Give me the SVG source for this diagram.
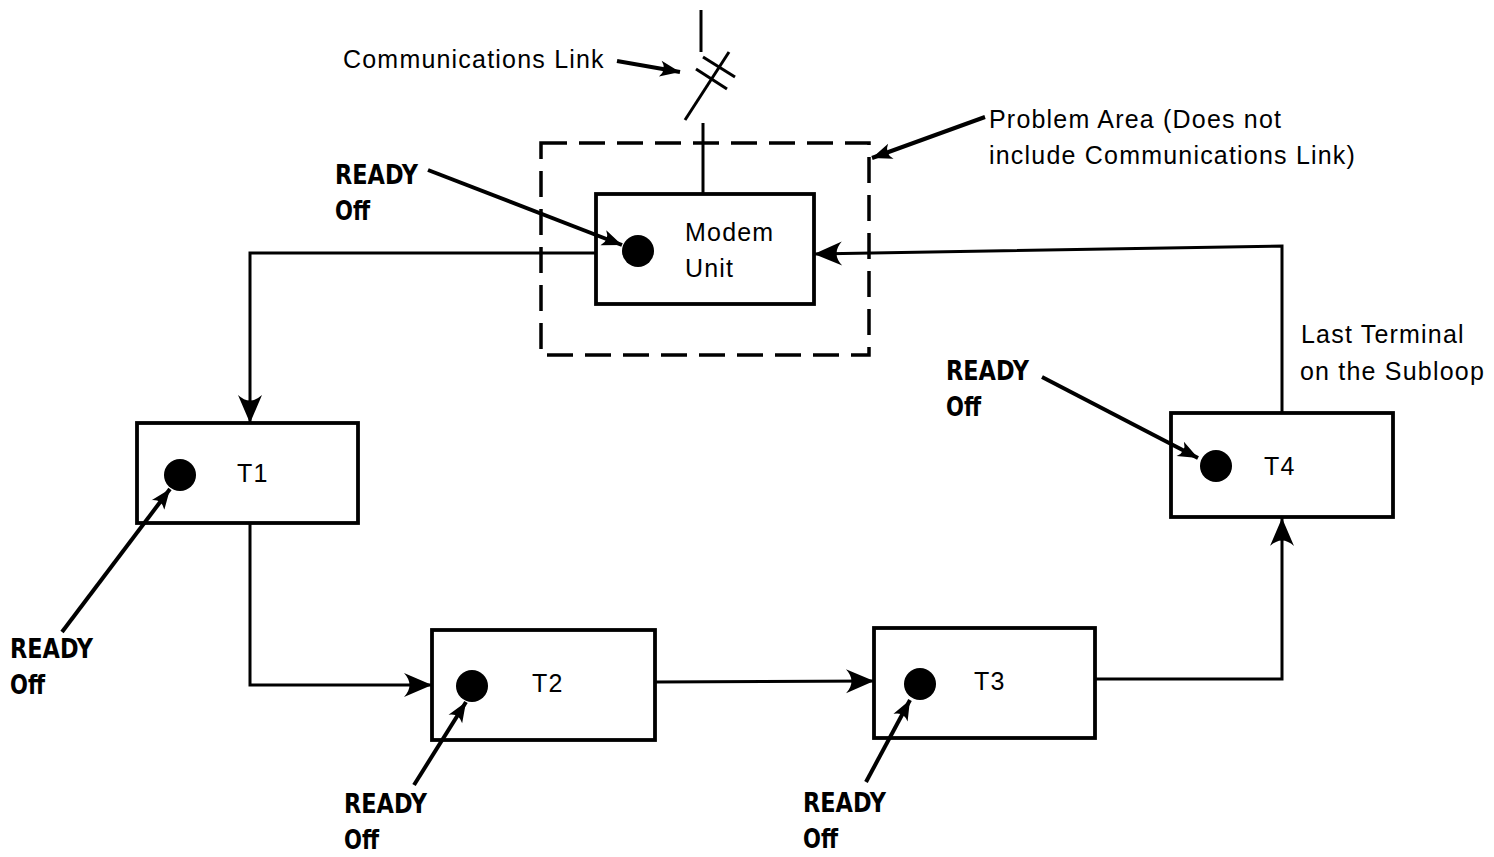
<svg xmlns="http://www.w3.org/2000/svg" width="1494" height="857" viewBox="0 0 1494 857">
<style>
.box{fill:#fff;stroke:#000;stroke-width:3.8}
.ln{fill:none;stroke:#000;stroke-width:3}
.ptr{fill:none;stroke:#000;stroke-width:4}
.dash{fill:none;stroke:#000;stroke-width:3.5;stroke-dasharray:26 12}
.dot{fill:#000}
.t{font-family:"Liberation Sans",Arial,sans-serif;font-size:25px;fill:#000;letter-spacing:1.2px}
.b{font-family:"DejaVu Sans Condensed","Liberation Sans Narrow","Liberation Sans",sans-serif;font-weight:bold;font-size:26px;fill:#000}
</style>
<defs>
<marker id="flow" markerUnits="userSpaceOnUse" markerWidth="32" markerHeight="28" viewBox="-30 -14 32 28" refX="0" refY="0" orient="auto">
<path d="M0,0 L-28,-12 Q-17,0 -28,12 Z" fill="#000"/>
</marker>
<marker id="ptr" markerUnits="userSpaceOnUse" markerWidth="24" markerHeight="18" viewBox="-22 -9 24 18" refX="0" refY="0" orient="auto">
<path d="M0,0 L-20,-8 Q-13,0 -20,8 Z" fill="#000"/>
</marker>
</defs>

<g id="connectors">
<path class="ln" d="M596,253 L250,253 L250,423" marker-end="url(#flow)"/>
<path class="ln" d="M250,523 L250,685 L432,685" marker-end="url(#flow)"/>
<path class="ln" d="M655,682 L874,681" marker-end="url(#flow)"/>
<path class="ln" d="M1095,679 L1282,679 L1282,518" marker-end="url(#flow)"/>
<path class="ln" d="M1282,413 L1282,246 L814,254" marker-end="url(#flow)"/>
<path class="ln" d="M703,194 L703,123"/>
</g>

<g id="comm-link">
<line class="ln" x1="701" y1="10" x2="701" y2="52" stroke-width="3.5"/>
<line class="ln" x1="685" y1="120" x2="729" y2="52" stroke-width="4"/>
<line class="ln" x1="703" y1="57" x2="735" y2="77" stroke-width="4"/>
<line class="ln" x1="696" y1="69" x2="727" y2="89" stroke-width="4"/>
<line class="ptr" x1="617" y1="61" x2="680" y2="72" marker-end="url(#ptr)"/>
<text class="t" x="343" y="68">Communications Link</text>
</g>

<g id="problem-area">
<rect class="dash" x="541" y="143" width="328" height="212"/>
<line class="ptr" x1="985" y1="117" x2="872" y2="158" marker-end="url(#ptr)"/>
<text class="t" x="989" y="128">Problem Area (Does not</text>
<text class="t" x="989" y="164">include Communications Link)</text>
</g>

<g id="modem">
<rect class="box" x="596" y="194" width="218" height="110"/>
<circle class="dot" cx="638" cy="251" r="16"/>
<text class="t" x="685" y="241">Modem</text>
<text class="t" x="685" y="277">Unit</text>
<text class="b" x="335" y="184" textLength="83" lengthAdjust="spacingAndGlyphs">READY</text>
<text class="b" x="335" y="220" textLength="35" lengthAdjust="spacingAndGlyphs">Off</text>
<line class="ptr" x1="428" y1="170" x2="622" y2="245" marker-end="url(#ptr)"/>
</g>

<g id="t1">
<rect class="box" x="137" y="423" width="221" height="100"/>
<circle class="dot" cx="180" cy="475" r="16"/>
<text class="t" x="237" y="482">T1</text>
<text class="b" x="10" y="658" textLength="83" lengthAdjust="spacingAndGlyphs">READY</text>
<text class="b" x="10" y="694" textLength="35" lengthAdjust="spacingAndGlyphs">Off</text>
<line class="ptr" x1="62" y1="632" x2="170" y2="489" marker-end="url(#ptr)"/>
</g>

<g id="t2">
<rect class="box" x="432" y="630" width="223" height="110"/>
<circle class="dot" cx="472" cy="686" r="16"/>
<text class="t" x="532" y="692">T2</text>
<text class="b" x="344" y="813" textLength="83" lengthAdjust="spacingAndGlyphs">READY</text>
<text class="b" x="344" y="849" textLength="35" lengthAdjust="spacingAndGlyphs">Off</text>
<line class="ptr" x1="414" y1="785" x2="466" y2="702" marker-end="url(#ptr)"/>
</g>

<g id="t3">
<rect class="box" x="874" y="628" width="221" height="110"/>
<circle class="dot" cx="920" cy="684" r="16"/>
<text class="t" x="974" y="690">T3</text>
<text class="b" x="803" y="812" textLength="83" lengthAdjust="spacingAndGlyphs">READY</text>
<text class="b" x="803" y="848" textLength="35" lengthAdjust="spacingAndGlyphs">Off</text>
<line class="ptr" x1="866" y1="782" x2="910" y2="700" marker-end="url(#ptr)"/>
</g>

<g id="t4">
<rect class="box" x="1171" y="413" width="222" height="104"/>
<circle class="dot" cx="1216" cy="466" r="16"/>
<text class="t" x="1264" y="475">T4</text>
<text class="t" x="1301" y="343">Last Terminal</text>
<text class="t" x="1300" y="380">on the Subloop</text>
<text class="b" x="946" y="380" textLength="83" lengthAdjust="spacingAndGlyphs">READY</text>
<text class="b" x="946" y="416" textLength="35" lengthAdjust="spacingAndGlyphs">Off</text>
<line class="ptr" x1="1042" y1="377" x2="1198" y2="458" marker-end="url(#ptr)"/>
</g>
</svg>
